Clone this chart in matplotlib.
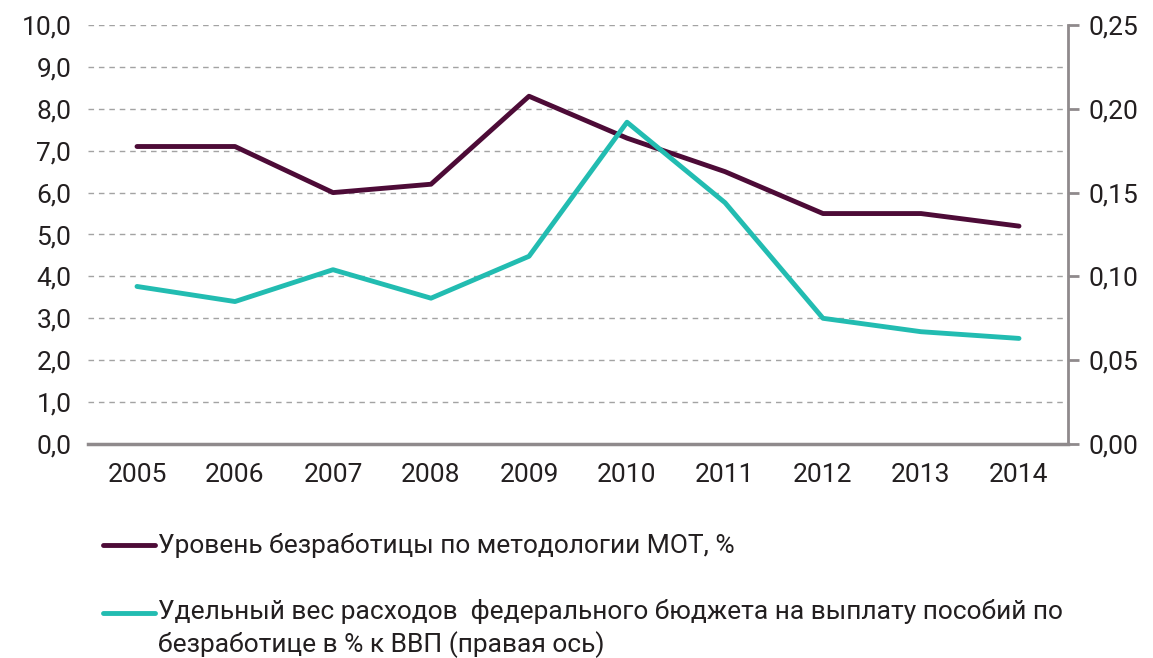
import matplotlib
matplotlib.use("Agg")
import matplotlib.pyplot as plt
from matplotlib.lines import Line2D
from matplotlib.ticker import FixedLocator, FuncFormatter

plt.rcParams['font.family'] = ['Roboto', 'DejaVu Sans']

years = ['2005', '2006', '2007', '2008', '2009', '2010', '2011', '2012', '2013', '2014']
unemployment = [7.1, 7.1, 6.0, 6.2, 8.3, 7.3, 6.5, 5.5, 5.5, 5.2]
benefits_gdp = [0.094, 0.085, 0.104, 0.087, 0.112, 0.192, 0.144, 0.075, 0.067, 0.063]
label_unemp = 'Уровень безработицы по методологии МОТ, %'
label_benef = 'Удельный вес расходов  федерального бюджета на выплату пособий по\nбезработице в % к ВВП (правая ось)'

c_dark = '#4d0b37'
c_teal = '#22bcb1'
c_text = '#231f20'
c_grid = '#a3a3a3'

W, H = 1153, 658
fig = plt.figure(figsize=(W / 100, H / 100), dpi=100)
ax = fig.add_axes([88 / W, 1 - 444 / H, (1068 - 88) / W, (444 - 25) / H])
ax2 = ax.twinx()

x = list(range(len(years)))
ax.plot(x, unemployment, color=c_dark, lw=3.5, solid_capstyle='round', zorder=3)
ax2.plot(x, benefits_gdp, color=c_teal, lw=3.5, solid_capstyle='round', zorder=3)

ax.set_xlim(-0.5, len(years) - 0.5)
ax.set_ylim(0, 10)
ax2.set_ylim(0, 0.25)
ax.set_xticks(x)
ax.set_xticklabels(years)
ax.yaxis.set_major_locator(FixedLocator([i for i in range(11)]))
ax.yaxis.set_major_formatter(FuncFormatter(lambda v, p: f'{v:.1f}'.replace('.', ',')))
ax2.yaxis.set_major_locator(FixedLocator([0, 0.05, 0.10, 0.15, 0.20, 0.25]))
ax2.yaxis.set_major_formatter(FuncFormatter(lambda v, p: f'{v:.2f}'.replace('.', ',')))

ax.grid(axis='y', color=c_grid, ls=(0, (4, 3.5)), lw=1.0)
ax.set_axisbelow(True)
for a in (ax, ax2):
    for s in ('top', 'left'):
        a.spines[s].set_visible(False)
ax.spines['right'].set_visible(False)
ax2.spines['bottom'].set_visible(False)
ax.spines['bottom'].set_color('#8f8a8c')
ax.spines['bottom'].set_linewidth(2.5)
ax2.spines['right'].set_color('#8f8a8c')
ax2.spines['right'].set_linewidth(2.0)

ax.tick_params(axis='y', length=0, pad=12, labelsize=19, labelcolor=c_text)
ax.tick_params(axis='x', length=0, pad=14, labelsize=19, labelcolor=c_text)
ax2.tick_params(axis='y', length=8, width=2.0, color='#8f8a8c', pad=7, labelsize=19, labelcolor=c_text)

# legend
fig.add_artist(Line2D([103 / W, 155 / W], [1 - 545 / H, 1 - 545 / H], color=c_dark, lw=3.5,
                      solid_capstyle='round'))
fig.text(158 / W, 1 - 545 / H, label_unemp, fontsize=19, color=c_text, va='center', ha='left')
fig.add_artist(Line2D([103 / W, 155 / W], [1 - 613 / H, 1 - 613 / H], color=c_teal, lw=3.5,
                      solid_capstyle='round'))
fig.text(158 / W, 1 - 599 / H, label_benef, fontsize=19, color=c_text, va='top', ha='left',
         linespacing=1.32)

fig.savefig('out.png', dpi=100)
